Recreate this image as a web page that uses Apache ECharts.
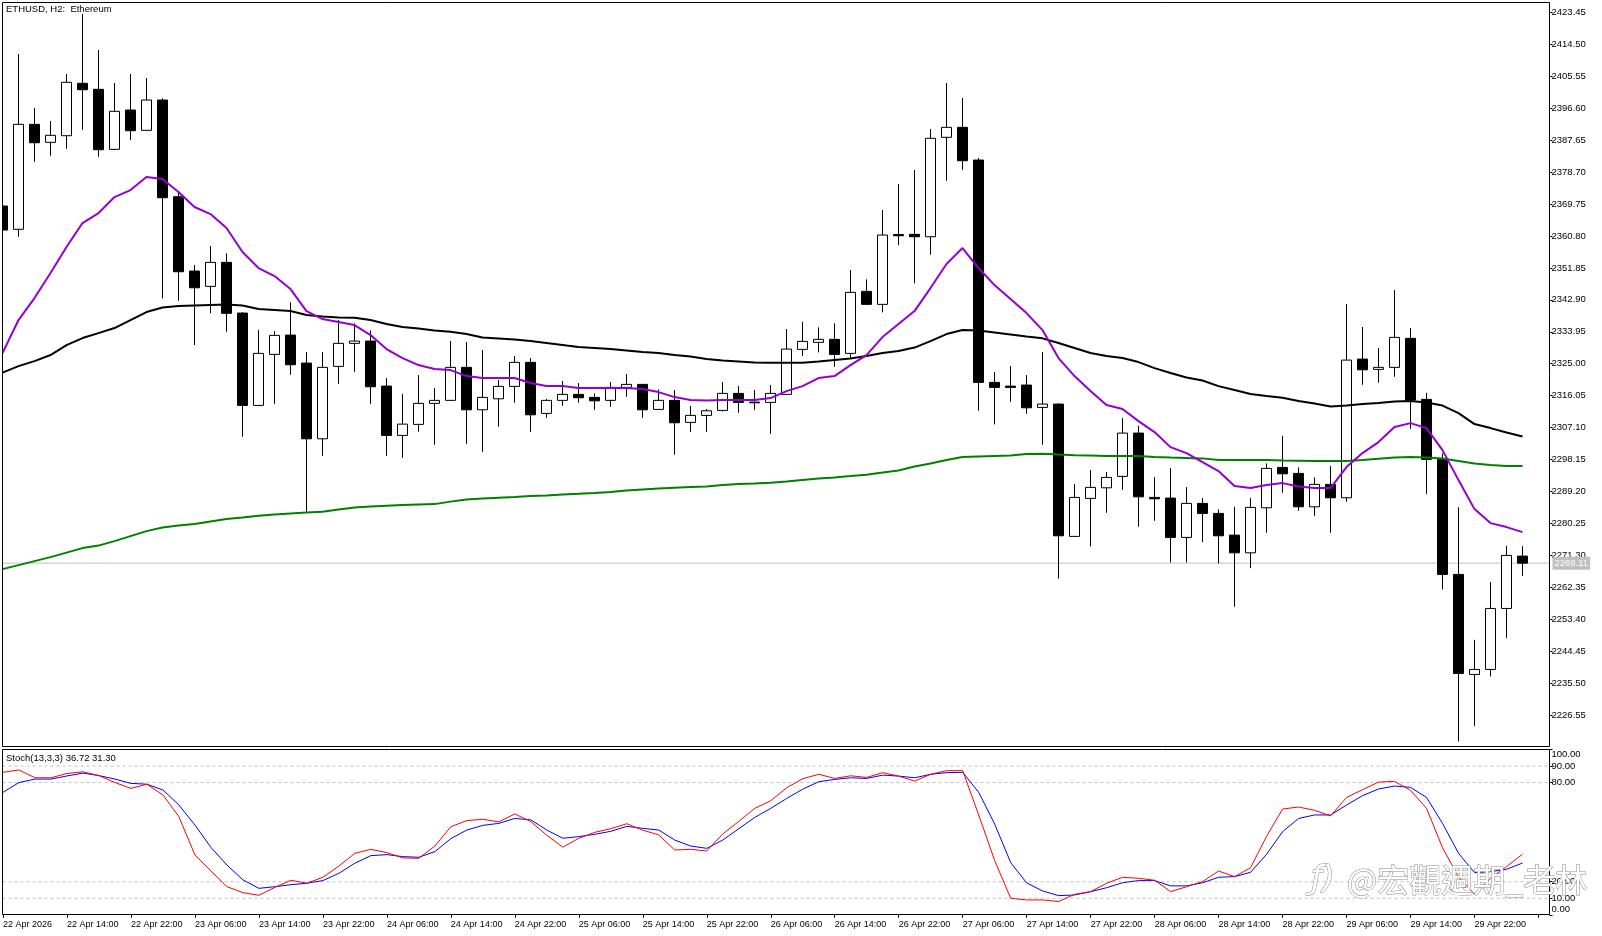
<!DOCTYPE html>
<html><head><meta charset="utf-8">
<script src="https://cdn.jsdelivr.net/npm/echarts@6/dist/echarts.min.js"></script>
<style>html,body{margin:0;padding:0;background:#fff;}#c{width:1602px;height:936px;}</style>
</head><body><div id="c"></div>
<script>
// ---------- DATA ----------
const startTime = '2026-04-22T06:00Z';   // first bar, H2 bars
const opens = [2369.20,2362.67,2392.10,2387.06,2388.91,2403.60,2401.91,2385.09,2396.11,2390.42,
2398.91,2371.81,2350.98,2346.69,2353.41,2339.20,2313.32,2327.62,2333.03,2325.18,
2303.96,2324.26,2330.71,2331.35,2318.73,2304.91,2308.00,2313.89,2314.73,2323.98,
2312.09,2315.17,2318.65,2325.38,2311.08,2314.73,2316.41,2315.57,2314.73,2318.37,
2319.21,2312.20,2314.73,2308.56,2310.52,2311.92,2316.69,2314.25,2314.16,2316.41,
2329.02,2330.99,2331.83,2327.90,2345.28,2341.64,2361.21,2361.26,2360.59,2388.46,
2391.26,2382.09,2319.77,2318.73,2319.02,2312.76,2313.69,2276.60,2287.25,2290.22,
2293.42,2305.56,2287.53,2287.34,2276.32,2285.85,2283.05,2276.96,2272.00,2284.62,
2295.94,2294.26,2284.90,2291.18,2287.42,2326.30,2323.42,2323.98,2332.11,2315.01,
2298.19,2265.95,2237.91,2239.31,2256.41,2271.08];
const closes = [2362.47,2392.10,2386.94,2389.02,2403.88,2401.80,2384.98,2395.75,2390.31,2398.91,
2371.53,2350.78,2346.29,2353.41,2339.12,2313.32,2327.90,2332.95,2324.71,2303.96,
2323.98,2330.71,2331.35,2318.54,2304.91,2308.08,2313.89,2314.73,2323.98,2312.09,
2315.57,2318.65,2325.38,2310.69,2314.73,2316.41,2315.46,2314.61,2318.37,2319.21,
2312.09,2314.73,2308.45,2310.52,2311.81,2316.69,2314.16,2314.05,2316.69,2329.11,
2331.27,2331.83,2327.62,2345.00,2341.64,2361.07,2360.87,2360.59,2388.18,2391.26,
2381.90,2319.77,2318.37,2318.37,2312.65,2313.69,2276.77,2287.53,2290.34,2293.14,
2305.56,2287.70,2287.14,2276.32,2285.85,2283.05,2276.77,2272.00,2284.73,2295.66,
2294.15,2284.90,2291.18,2287.42,2326.02,2323.30,2323.98,2332.39,2314.81,2298.19,
2265.95,2238.19,2239.31,2256.41,2271.27,2269.11];
const highs = [2369.76,2411.81,2396.67,2393.03,2406.20,2423.03,2412.93,2403.68,2406.20,2405.08,
2399.39,2372.84,2352.66,2357.98,2355.94,2339.48,2334.43,2334.15,2342.20,2328.27,
2328.27,2337.24,2336.31,2334.35,2320.98,2316.49,2321.82,2318.17,2331.35,2331.07,
2328.83,2320.42,2327.15,2326.58,2315.09,2320.14,2319.58,2316.69,2319.86,2322.10,
2319.30,2317.81,2317.61,2313.13,2312.29,2319.86,2318.73,2317.61,2319.02,2334.71,
2336.76,2335.19,2336.31,2351.26,2348.65,2368.08,2375.37,2379.29,2390.78,2403.68,
2399.48,2382.65,2322.66,2324.34,2321.82,2328.27,2313.88,2291.26,2295.19,2294.62,
2309.76,2307.61,2293.22,2295.75,2290.42,2287.34,2284.17,2284.90,2287.34,2297.06,
2304.80,2295.94,2293.14,2296.31,2341.72,2335.28,2329.39,2345.65,2335.00,2316.86,
2299.87,2284.81,2247.61,2263.79,2273.96,2273.88];
const lows = [2361.91,2360.59,2381.62,2383.30,2385.26,2390.59,2383.02,2384.90,2387.70,2390.30,
2343.32,2342.65,2330.23,2339.12,2333.96,2304.52,2313.13,2313.77,2321.90,2283.50,
2299.20,2319.38,2322.74,2313.77,2299.20,2298.63,2305.92,2302.28,2314.53,2302.56,
2300.32,2307.33,2314.05,2305.92,2309.85,2313.21,2314.05,2312.09,2312.93,2315.74,
2309.85,2312.15,2299.48,2305.92,2305.92,2311.64,2311.25,2312.09,2305.36,2316.35,
2327.15,2328.18,2324.15,2326.50,2341.58,2339.40,2358.26,2347.53,2355.54,2376.29,
2379.37,2311.81,2308.00,2314.33,2310.97,2302.28,2264.77,2276.55,2273.80,2283.22,
2289.66,2279.29,2280.97,2269.30,2269.30,2275.00,2269.03,2256.86,2267.71,2277.61,
2288.82,2283.77,2282.37,2277.61,2286.30,2319.10,2319.66,2321.34,2306.76,2288.54,
2261.74,2219.13,2223.50,2237.35,2248.17,2265.55];
// moving averages
const maPurple = [2327.99,2337.24,2343.41,2350.41,2357.70,2364.43,2367.24,2371.72,2373.68,2377.33,
2376.77,2373.12,2368.92,2366.95,2363.03,2356.30,2351.82,2349.57,2345.93,2339.76,
2337.52,2336.68,2335.84,2333.03,2329.11,2326.58,2324.62,2323.50,2323.22,2321.54,
2320.98,2320.98,2320.98,2319.58,2318.73,2318.73,2318.17,2318.17,2318.17,2318.17,
2317.89,2317.05,2315.65,2314.81,2314.67,2314.81,2314.81,2314.81,2315.37,2317.33,
2318.73,2320.98,2321.54,2324.62,2327.43,2332.47,2336.12,2339.76,2346.21,2352.94,
2357.42,2351.82,2347.05,2343.13,2339.20,2334.43,2326.58,2321.54,2317.33,2313.41,
2312.29,2308.92,2305.84,2301.63,2299.95,2297.43,2294.91,2290.70,2290.14,2290.98,
2291.54,2290.56,2290.14,2290.14,2296.03,2299.95,2303.04,2307.24,2308.36,2306.96,
2300.79,2292.38,2284.25,2280.33,2279.21,2277.80];
const maBlack = [2322.52,2324.34,2325.74,2327.43,2330.23,2332.19,2333.59,2335.00,2337.24,2339.48,
2340.74,2341.16,2341.30,2341.44,2341.58,2341.30,2340.32,2340.04,2339.76,2338.64,
2338.22,2337.94,2337.88,2337.24,2336.12,2335.28,2334.86,2334.29,2333.96,2333.31,
2332.33,2332.05,2331.77,2331.35,2330.79,2330.23,2329.67,2329.39,2329.11,2328.69,
2328.27,2327.99,2327.43,2327.01,2326.30,2325.88,2325.60,2325.32,2325.27,2325.27,
2325.27,2325.60,2326.02,2326.44,2327.15,2327.99,2328.55,2329.53,2331.35,2333.31,
2334.43,2334.29,2333.73,2333.17,2332.61,2332.11,2330.79,2329.39,2327.99,2327.15,
2326.58,2325.46,2323.78,2322.38,2321.12,2320.28,2318.73,2317.61,2316.49,2315.93,
2315.46,2314.53,2313.83,2312.99,2313.27,2313.69,2313.97,2314.39,2314.53,2314.11,
2313.27,2311.17,2308.08,2306.96,2305.70,2304.58];
const maGreen = [2267.43,2268.55,2269.67,2270.80,2272.06,2273.32,2274.02,2275.28,2276.68,2278.08,
2279.07,2279.63,2280.05,2280.75,2281.45,2281.87,2282.37,2282.71,2283.05,2283.27,
2283.49,2284.11,2284.67,2284.95,2285.18,2285.37,2285.51,2285.65,2286.35,2286.97,
2287.20,2287.42,2287.62,2287.90,2288.09,2288.32,2288.54,2288.79,2289.07,2289.44,
2289.72,2290.00,2290.22,2290.42,2290.56,2290.98,2291.26,2291.40,2291.62,2291.96,
2292.38,2292.80,2293.14,2293.50,2293.87,2294.48,2295.10,2296.17,2297.01,2297.99,
2298.83,2299.03,2299.17,2299.31,2299.67,2299.76,2299.53,2299.33,2299.25,2299.17,
2299.11,2299.11,2298.89,2298.69,2298.61,2298.47,2297.99,2297.99,2297.99,2297.99,
2297.85,2297.79,2297.71,2297.71,2297.71,2297.99,2298.35,2298.69,2298.89,2298.69,
2298.41,2297.71,2297.01,2296.59,2296.31,2296.31];
// stochastic (13,3,3)
const stochMain = [86.2,87.6,82.9,82.9,85.5,86.5,84.2,80.0,76.5,79.0,
72.5,59.3,36.2,26.5,17.0,13.4,11.8,16.6,20.9,19.1,
22.7,29.5,37.2,39.6,37.6,34.4,34.2,41.6,53.3,57.0,
57.8,56.2,61.0,56.4,48.1,40.9,46.3,49.9,52.1,55.1,
51.2,48.3,39.2,39.6,38.6,48.9,56.5,64.4,69.0,76.9,
82.3,85.0,82.5,84.1,83.1,86.0,83.9,80.9,85.0,87.2,
87.2,60.4,32.8,10.0,9.0,9.0,8.0,12.4,14.0,19.1,
22.7,22.1,20.9,14.0,17.0,20.1,26.5,23.1,28.5,47.5,
64.0,65.2,63.2,59.8,71.0,75.7,80.3,80.7,75.3,64.4,
40.6,22.9,12.4,22.1,29.1,36.72];
const stochSignal = [74.1,80.0,82.1,82.1,84.0,85.7,84.2,82.1,79.5,79.0,
75.5,66.4,54.3,40.8,30.1,21.1,16.0,17.0,18.2,19.1,
20.7,25.1,31.2,35.8,36.4,35.2,34.8,38.2,46.1,51.3,
54.1,55.3,58.3,57.4,51.3,46.3,47.3,48.7,50.5,53.5,
52.3,51.3,45.2,41.6,40.2,45.2,52.1,58.9,64.4,70.4,
76.0,80.5,81.9,82.9,82.5,84.5,83.9,82.9,85.0,86.0,
86.2,74.1,54.9,31.6,19.3,14.4,11.6,12.0,14.0,16.4,
19.4,20.7,20.7,17.5,17.5,19.4,22.7,23.1,25.7,36.6,
50.3,58.3,60.4,60.4,66.4,72.1,76.1,77.9,77.1,71.0,
55.3,37.2,25.5,26.1,27.5,31.30];
// axis tick labels
const priceTicks = [2226.55,2235.50,2244.45,2253.40,2262.35,2271.30,2280.25,2289.20,2298.15,2307.10,
2316.05,2325.00,2333.95,2342.90,2351.85,2360.80,2369.75,2378.70,2387.65,2396.60,2405.55,2414.50,2423.45];
const stochTicks = [0,10,20,80,90,100];
const stochLevels = [10,20,80,90];
const titleText = 'ETHUSD, H2:  Ethereum';
const stochText = 'Stoch(13,3,3) 36.72 31.30';
const watermarkText = '@宏觀週期_老林';

// ---------- BUILD ----------
const FONT = 'Tahoma, "Liberation Sans", Arial, sans-serif';
const N = opens.length;
const MON = ['Jan','Feb','Mar','Apr','May','Jun','Jul','Aug','Sep','Oct','Nov','Dec'];
const t0 = new Date(startTime).getTime();
const pad = n => String(n).padStart(2, '0');
const categories = [];
for (let i = 0; i <= N; i++) {
  if (i === N) { categories.push(''); break; }
  const d = new Date(t0 + i * 7200000);
  if (i === 0) categories.push(d.getUTCDate() + ' ' + MON[d.getUTCMonth()] + ' ' + d.getUTCFullYear());
  else categories.push(d.getUTCDate() + ' ' + MON[d.getUTCMonth()] + ' ' + pad(d.getUTCHours()) + ':' + pad(d.getUTCMinutes()));
}
const candles = opens.map((o, i) => [o, closes[i], lows[i], highs[i]]);
const lastPrice = closes[N - 1];

const PMIN = 2217.60, PMAX = 2426.39;
const G_LEFT = 2.5, G_W = 1536, FRAME_W = 1547;
const MAIN_TOP = 2, MAIN_H = 744.9, ST_TOP = 749.5, ST_H = 165.3;

const hiddenCat = gi => ({ type: 'category', gridIndex: gi, data: categories, boundaryGap: false, show: false,
  axisLine: { show: false, onZero: false }, axisTick: { show: false }, axisLabel: { show: false }, splitLine: { show: false } });
const hiddenVal = (gi, mn, mx) => ({ type: 'value', gridIndex: gi, min: mn, max: mx, show: false,
  axisLine: { show: false, onZero: false }, axisTick: { show: false }, axisLabel: { show: false }, splitLine: { show: false } });

const chart = echarts.init(document.getElementById('c'), null, { renderer: 'canvas' });
const option = {
  animation: false,
  backgroundColor: '#ffffff',
  grid: [
    { left: G_LEFT, top: MAIN_TOP, width: G_W, height: MAIN_H },
    { left: G_LEFT, top: ST_TOP, width: G_W, height: ST_H },
    { left: G_LEFT, top: MAIN_TOP, width: FRAME_W, height: MAIN_H },
    { left: G_LEFT, top: ST_TOP, width: FRAME_W, height: ST_H }
  ],
  xAxis: [
    hiddenCat(0),
    { type: 'category', gridIndex: 1, data: categories, boundaryGap: false,
      axisLine: { show: false, onZero: false },
      axisTick: { show: true, interval: 3, length: 3, lineStyle: { color: '#000' } },
      axisLabel: { interval: 3, align: 'left', margin: 5, fontSize: 9, color: '#000', fontFamily: FONT,
        formatter: (v, i) => (i >= N ? '' : v) },
      splitLine: { show: false } },
    hiddenVal(2, 1, 2),
    hiddenVal(3, 1, 2)
  ],
  yAxis: [
    hiddenVal(0, PMIN, PMAX),
    hiddenVal(1, 0, 100),
    { type: 'value', gridIndex: 2, position: 'right', min: PMIN, max: PMAX,
      axisLine: { show: false, onZero: false }, splitLine: { show: false },
      axisTick: { show: true, length: 3, customValues: priceTicks, lineStyle: { color: '#000' } },
      axisLabel: { customValues: priceTicks, margin: 2, fontSize: 9.5, color: '#000', fontFamily: FONT,
        formatter: v => Number(v).toFixed(2) } },
    { type: 'value', gridIndex: 3, position: 'right', min: 0, max: 100,
      axisLine: { show: false, onZero: false }, splitLine: { show: false },
      axisTick: { show: true, length: 3, customValues: stochTicks, lineStyle: { color: '#000' } },
      axisLabel: { customValues: stochTicks, margin: 2, fontSize: 9.5, color: '#000', fontFamily: FONT,
        verticalAlignMaxLabel: 'top', verticalAlignMinLabel: 'bottom',
        formatter: v => Number(v).toFixed(2) } }
  ],
  series: [
    // current price line
    { type: 'line', xAxisIndex: 2, yAxisIndex: 2, data: [[1, lastPrice], [2, lastPrice]], symbol: 'none', z: 1,
      silent: true, lineStyle: { color: '#c0c0c0', width: 1 },
      endLabel: { show: true, distance: 3, formatter: lastPrice.toFixed(2),
        backgroundColor: '#c0c0c0', color: '#ffffff', fontSize: 9.5, fontFamily: FONT, padding: [2, 2, 1, 2] } },
    { type: 'candlestick', xAxisIndex: 0, yAxisIndex: 0, data: candles, barWidth: 10, z: 2, clip: true,
      itemStyle: { color: '#ffffff', color0: '#000000', borderColor: '#000000', borderColor0: '#000000', borderWidth: 1 } },
    { type: 'line', xAxisIndex: 0, yAxisIndex: 0, data: maGreen, symbol: 'none', z: 3,
      lineStyle: { color: '#008000', width: 2 } },
    { type: 'line', xAxisIndex: 0, yAxisIndex: 0, data: maBlack, symbol: 'none', z: 3,
      lineStyle: { color: '#000000', width: 2 } },
    { type: 'line', xAxisIndex: 0, yAxisIndex: 0, data: maPurple, symbol: 'none', z: 3,
      lineStyle: { color: '#9400d3', width: 2 } },
    // stochastic level lines
    ...stochLevels.map(v => ({ type: 'line', xAxisIndex: 3, yAxisIndex: 3, data: [[1, v], [2, v]],
      symbol: 'none', z: 1, silent: true, lineStyle: { color: '#c0c0c0', type: [3, 3], width: 1 } })),
    { type: 'line', xAxisIndex: 1, yAxisIndex: 1, data: stochSignal, symbol: 'none', z: 3,
      lineStyle: { color: '#0000ff', width: 1 } },
    { type: 'line', xAxisIndex: 1, yAxisIndex: 1, data: stochMain, symbol: 'none', z: 4,
      lineStyle: { color: '#ff0000', width: 1 } }
  ],
  graphic: [
    { type: 'rect', z: 100, shape: { x: 0, y: 0, width: 2.5, height: 936 }, style: { fill: '#ffffff' } },
    { type: 'rect', z: 101, shape: { x: 2.5, y: 2.5, width: 1547, height: 744 },
      style: { fill: null, stroke: '#000', lineWidth: 1 } },
    { type: 'rect', z: 101, shape: { x: 2.5, y: 749.5, width: 1547, height: 165 },
      style: { fill: null, stroke: '#000', lineWidth: 1 } },
    { type: 'text', z: 102, x: 6, y: 4,
      style: { text: titleText, font: '9.5px ' + FONT, fill: '#000', textVerticalAlign: 'top', verticalAlign: 'top' } },
    { type: 'text', z: 102, x: 6, y: 753,
      style: { text: stochText, font: '9.5px ' + FONT, fill: '#000', textVerticalAlign: 'top', verticalAlign: 'top' } },
    { type: 'text', z: 200, x: 1311, y: 880,
      style: { text: 'ƒ)', font: 'italic 32px "DejaVu Sans"', fill: '#ffffff', stroke: '#8c8c8c', lineWidth: 1,
        textVerticalAlign: 'middle', verticalAlign: 'middle' } },
    { type: 'text', z: 200, x: 1347, y: 880,
      style: { text: watermarkText, font: '32px "Noto Sans CJK TC"', fill: '#ffffff', stroke: '#8c8c8c', lineWidth: 1,
        textVerticalAlign: 'middle', verticalAlign: 'middle' } }
  ]
};
chart.setOption(option);
</script>
</body></html>
